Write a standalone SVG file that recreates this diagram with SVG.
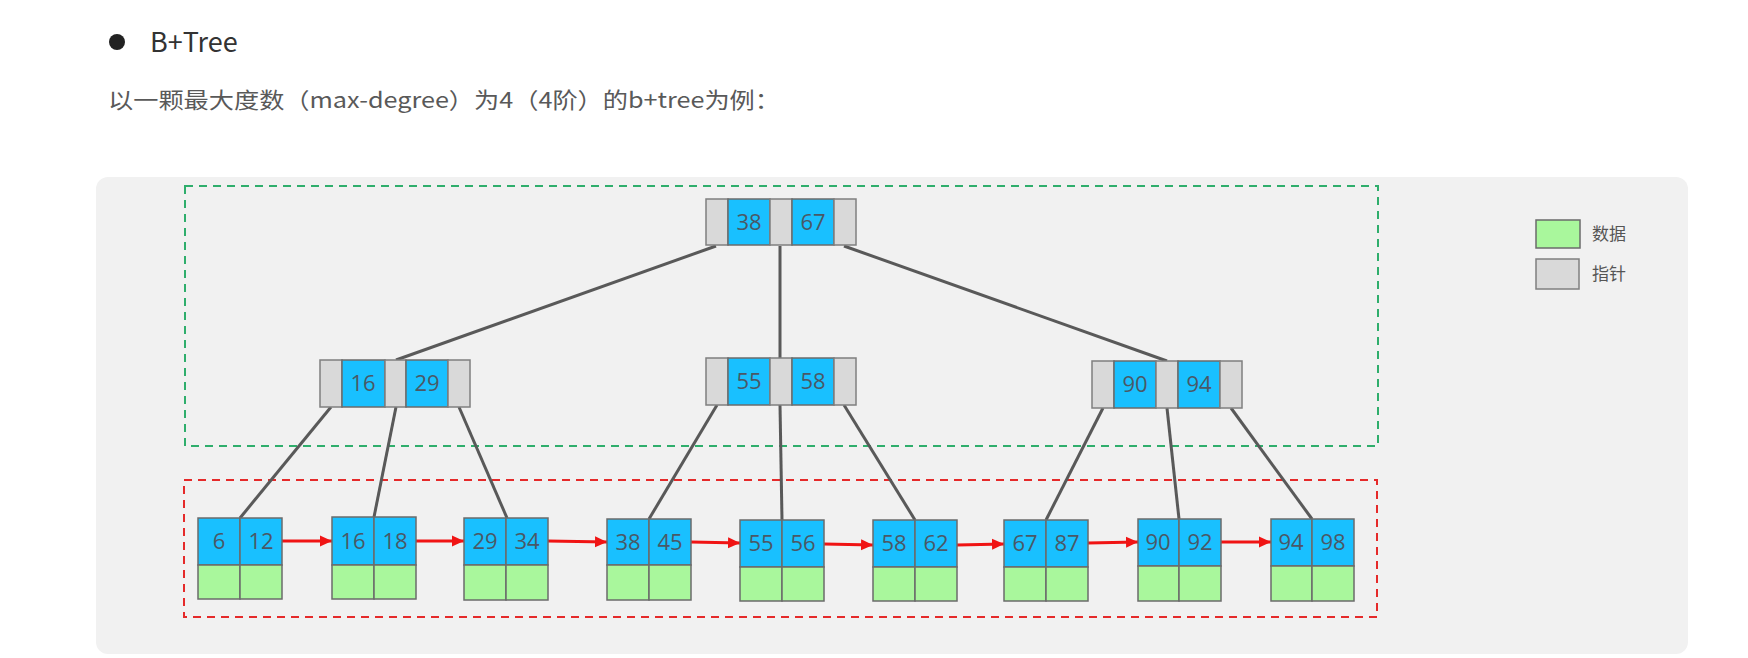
<svg xmlns="http://www.w3.org/2000/svg" width="1748" height="658" viewBox="0 0 1748 658">
<style>
  .g{fill:#d9d9d9;stroke:#7f7f7f;stroke-width:1.5}
  .b{fill:#19c0ff;stroke:#6b6b6b;stroke-width:1.5}
  .d{fill:#a9f79c;stroke:#6b6b6b;stroke-width:1.5}
  .k{font-family:"Open Sans","Noto Sans",sans-serif;font-size:22px;fill:#4a5866;text-anchor:middle}
  .e{stroke:#595959;stroke-width:3;fill:none}
  .a{stroke:#f01414;stroke-width:3;fill:none}
  .lt{font-family:"Noto Sans CJK SC",sans-serif;font-size:17px;fill:#555}
</style>
<defs>
  <marker id="ah" markerWidth="12" markerHeight="12" refX="12" refY="6" orient="auto" markerUnits="userSpaceOnUse">
    <path d="M0,0.5 L12,6 L0,11.5 Z" fill="#f01414"/>
  </marker>
</defs>
<rect width="1748" height="658" fill="#ffffff"/>
<rect x="96" y="177" width="1592" height="477" rx="12" fill="#f1f1f1"/>
<circle cx="117" cy="42" r="8" fill="#222"/>
<text x="150" y="52" font-family="Noto Sans CJK SC,Noto Sans,sans-serif" font-size="27" fill="#333">B+Tree</text>
<text x="108" y="108" font-family="Noto Sans CJK SC,sans-serif" font-size="22" fill="#595959" textLength="672" lengthAdjust="spacingAndGlyphs">以一颗最大度数（max-degree）为4（4阶）的b+tree为例：</text>
<rect x="185" y="186" width="1193" height="260" fill="none" stroke="#2fae6c" stroke-width="2" stroke-dasharray="8 6"/>
<rect x="184" y="480" width="1193" height="137" fill="none" stroke="#e52a2a" stroke-width="2" stroke-dasharray="8 6"/>
<g id="connectors">
  <line class="e" x1="716" y1="246" x2="396" y2="360"/>
  <line class="e" x1="780" y1="246" x2="780" y2="359"/>
  <line class="e" x1="844" y1="246" x2="1167" y2="361"/>
  <line class="e" x1="331" y1="407" x2="240" y2="518"/>
  <line class="e" x1="396" y1="407" x2="374" y2="517"/>
  <line class="e" x1="459" y1="407" x2="507" y2="518"/>
  <line class="e" x1="717" y1="405" x2="649" y2="519"/>
  <line class="e" x1="780" y1="405" x2="782" y2="520"/>
  <line class="e" x1="844" y1="405" x2="915" y2="520"/>
  <line class="e" x1="1103" y1="408" x2="1046" y2="520"/>
  <line class="e" x1="1167" y1="408" x2="1179" y2="519"/>
  <line class="e" x1="1231" y1="408" x2="1312" y2="519"/>
  <line class="a" x1="282" y1="541" x2="332" y2="541" marker-end="url(#ah)"/>
  <line class="a" x1="415" y1="541" x2="464" y2="541" marker-end="url(#ah)"/>
  <line class="a" x1="548" y1="541" x2="607" y2="542" marker-end="url(#ah)"/>
  <line class="a" x1="691" y1="542" x2="740" y2="543" marker-end="url(#ah)"/>
  <line class="a" x1="824" y1="544" x2="873" y2="545" marker-end="url(#ah)"/>
  <line class="a" x1="957" y1="545" x2="1004" y2="544" marker-end="url(#ah)"/>
  <line class="a" x1="1088" y1="543" x2="1138" y2="542" marker-end="url(#ah)"/>
  <line class="a" x1="1221" y1="542" x2="1271" y2="542" marker-end="url(#ah)"/>
</g>
<g id="root">
  <rect class="g" x="706" y="199" width="22" height="46"/>
  <rect class="b" x="728" y="199" width="42" height="46"/>
  <rect class="g" x="770" y="199" width="22" height="46"/>
  <rect class="b" x="792" y="199" width="42" height="46"/>
  <rect class="g" x="834" y="199" width="22" height="46"/>
  <text class="k" x="749" y="230">38</text>
  <text class="k" x="813" y="230">67</text>
</g>
<g id="n16_29">
  <rect class="g" x="320" y="360" width="22" height="47"/>
  <rect class="b" x="342" y="360" width="43" height="47"/>
  <rect class="g" x="385" y="360" width="21" height="47"/>
  <rect class="b" x="406" y="360" width="42" height="47"/>
  <rect class="g" x="448" y="360" width="22" height="47"/>
  <text class="k" x="363" y="391">16</text>
  <text class="k" x="427" y="391">29</text>
</g>
<g id="n55_58">
  <rect class="g" x="706" y="358" width="22" height="47"/>
  <rect class="b" x="728" y="358" width="42" height="47"/>
  <rect class="g" x="770" y="358" width="22" height="47"/>
  <rect class="b" x="792" y="358" width="42" height="47"/>
  <rect class="g" x="834" y="358" width="22" height="47"/>
  <text class="k" x="749" y="389">55</text>
  <text class="k" x="813" y="389">58</text>
</g>
<g id="n90_94">
  <rect class="g" x="1092" y="361" width="22" height="47"/>
  <rect class="b" x="1114" y="361" width="42" height="47"/>
  <rect class="g" x="1156" y="361" width="22" height="47"/>
  <rect class="b" x="1178" y="361" width="42" height="47"/>
  <rect class="g" x="1220" y="361" width="22" height="47"/>
  <text class="k" x="1135" y="392">90</text>
  <text class="k" x="1199" y="392">94</text>
</g>
<g id="leaf1">
  <rect class="b" x="198" y="518" width="42" height="47"/><rect class="b" x="240" y="518" width="42" height="47"/>
  <rect class="d" x="198" y="565" width="42" height="34"/><rect class="d" x="240" y="565" width="42" height="34"/>
  <text class="k" x="219" y="549">6</text><text class="k" x="261" y="549">12</text>
</g>
<g id="leaf2">
  <rect class="b" x="332" y="517" width="42" height="48"/><rect class="b" x="374" y="517" width="42" height="48"/>
  <rect class="d" x="332" y="565" width="42" height="34"/><rect class="d" x="374" y="565" width="42" height="34"/>
  <text class="k" x="353" y="549">16</text><text class="k" x="395" y="549">18</text>
</g>
<g id="leaf3">
  <rect class="b" x="464" y="518" width="42" height="47"/><rect class="b" x="506" y="518" width="42" height="47"/>
  <rect class="d" x="464" y="565" width="42" height="35"/><rect class="d" x="506" y="565" width="42" height="35"/>
  <text class="k" x="485" y="549">29</text><text class="k" x="527" y="549">34</text>
</g>
<g id="leaf4">
  <rect class="b" x="607" y="519" width="42" height="46"/><rect class="b" x="649" y="519" width="42" height="46"/>
  <rect class="d" x="607" y="565" width="42" height="35"/><rect class="d" x="649" y="565" width="42" height="35"/>
  <text class="k" x="628" y="550">38</text><text class="k" x="670" y="550">45</text>
</g>
<g id="leaf5">
  <rect class="b" x="740" y="520" width="42" height="47"/><rect class="b" x="782" y="520" width="42" height="47"/>
  <rect class="d" x="740" y="567" width="42" height="34"/><rect class="d" x="782" y="567" width="42" height="34"/>
  <text class="k" x="761" y="551">55</text><text class="k" x="803" y="551">56</text>
</g>
<g id="leaf6">
  <rect class="b" x="873" y="520" width="42" height="47"/><rect class="b" x="915" y="520" width="42" height="47"/>
  <rect class="d" x="873" y="567" width="42" height="34"/><rect class="d" x="915" y="567" width="42" height="34"/>
  <text class="k" x="894" y="551">58</text><text class="k" x="936" y="551">62</text>
</g>
<g id="leaf7">
  <rect class="b" x="1004" y="520" width="42" height="47"/><rect class="b" x="1046" y="520" width="42" height="47"/>
  <rect class="d" x="1004" y="567" width="42" height="34"/><rect class="d" x="1046" y="567" width="42" height="34"/>
  <text class="k" x="1025" y="551">67</text><text class="k" x="1067" y="551">87</text>
</g>
<g id="leaf8">
  <rect class="b" x="1138" y="519" width="41" height="47"/><rect class="b" x="1179" y="519" width="42" height="47"/>
  <rect class="d" x="1138" y="566" width="41" height="35"/><rect class="d" x="1179" y="566" width="42" height="35"/>
  <text class="k" x="1158" y="550">90</text><text class="k" x="1200" y="550">92</text>
</g>
<g id="leaf9">
  <rect class="b" x="1271" y="519" width="41" height="47"/><rect class="b" x="1312" y="519" width="42" height="47"/>
  <rect class="d" x="1271" y="566" width="41" height="35"/><rect class="d" x="1312" y="566" width="42" height="35"/>
  <text class="k" x="1291" y="550">94</text><text class="k" x="1333" y="550">98</text>
</g>
<g id="legend">
  <rect class="d" x="1536" y="220" width="44" height="28"/>
  <rect class="g" x="1536" y="259" width="43" height="30"/>
  <text class="lt" x="1592" y="240">数据</text>
  <text class="lt" x="1592" y="280">指针</text>
</g>
</svg>
